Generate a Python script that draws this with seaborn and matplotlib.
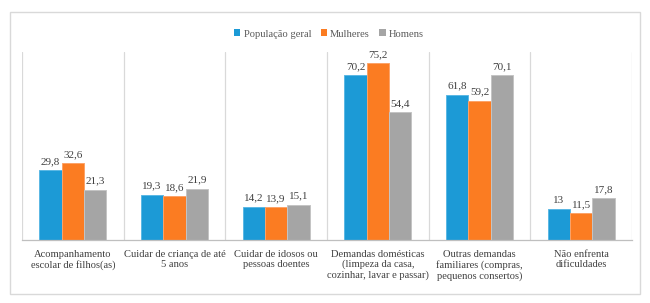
import pandas as pd
import seaborn as sns
import matplotlib.pyplot as plt
from matplotlib.patches import Rectangle

categories = [
    'Acompanhamento\nescolar de filhos(as)',
    'Cuidar de criança de até\n5 anos',
    'Cuidar de idosos ou\npessoas doentes',
    'Demandas domésticas\n(limpeza da casa,\ncozinhar, lavar e passar)',
    'Outras demandas\nfamiliares (compras,\npequenos consertos)',
    'Não enfrenta\ndificuldades',
]
series = ['População geral', 'Mulheres', 'Homens']
pop_geral = [29.8, 19.3, 14.2, 70.2, 61.8, 13.0]
mulheres = [32.6, 18.6, 13.9, 75.2, 59.2, 11.5]
homens = [21.3, 21.9, 15.1, 54.4, 70.1, 17.8]

colors = ['#1C9AD6', '#FB7C22', '#A5A5A5']
edges = ['#5BB8E4', '#FDA368', '#C4C4C4']

rows = []
for name, vals in zip(series, [pop_geral, mulheres, homens]):
    for cat, v in zip(categories, vals):
        rows.append({'cat': cat, 'serie': name, 'valor': v})
df = pd.DataFrame(rows)

sns.set_theme(style='white')
plt.rcParams['font.family'] = ['Liberation Serif', 'DejaVu Serif']

fig = plt.figure(figsize=(6.5, 3.03), dpi=100)
ax = fig.add_axes([22 / 650, 1 - 240 / 303, 610 / 650, 188 / 303])

sns.barplot(data=df, x='cat', y='valor', hue='serie', order=categories,
            hue_order=series, palette=colors, width=0.66, saturation=1,
            linewidth=0, ax=ax)

ax.set_ylim(0, 80)
ax.set_xlim(-0.5, len(categories) - 0.5)
ax.set_yticks([])
ax.set_xlabel('')
ax.set_ylabel('')

# contorno claro nas barras, como no original
for cont, ec in zip(ax.containers, edges):
    for p in cont:
        p.set_edgecolor(ec)
        p.set_linewidth(0.7)

# separadores verticais entre categorias
for b in range(len(categories) + 1):
    ax.axvline(b - 0.5, color='#D9D9D9', lw=0.9, zorder=0)

for s in ['top', 'right', 'left']:
    ax.spines[s].set_visible(False)
ax.spines['bottom'].set_color('#BFBFBF')
ax.spines['bottom'].set_linewidth(0.9)

ax.tick_params(axis='x', length=0, pad=7, labelsize=7.6, colors='#404040')
for t in ax.get_xticklabels():
    t.set_linespacing(1.15)

# rótulos de valores
for cont in ax.containers:
    labels = []
    for v in cont.datavalues:
        txt = f'{v:.1f}'.replace('.', ',')
        if txt.endswith(',0'):
            txt = txt[:-2]
        labels.append(txt)
    ax.bar_label(cont, labels=labels, padding=3, fontsize=8, color='#404040')

leg = ax.legend(loc='center', bbox_to_anchor=(329 / 650, 1 - 34 / 303),
                bbox_transform=fig.transFigure, ncol=3, frameon=False,
                fontsize=7.6, handlelength=0.6, handleheight=0.6,
                handletextpad=0.3, columnspacing=0.9)
for t in leg.get_texts():
    t.set_color('#595959')

fig.patches.append(Rectangle((10 / 650, 1 - 294 / 303), 630 / 650, 282 / 303,
                             transform=fig.transFigure, fill=False,
                             edgecolor='#D9D9D9', lw=1))

fig.savefig('out.png', dpi=100)
